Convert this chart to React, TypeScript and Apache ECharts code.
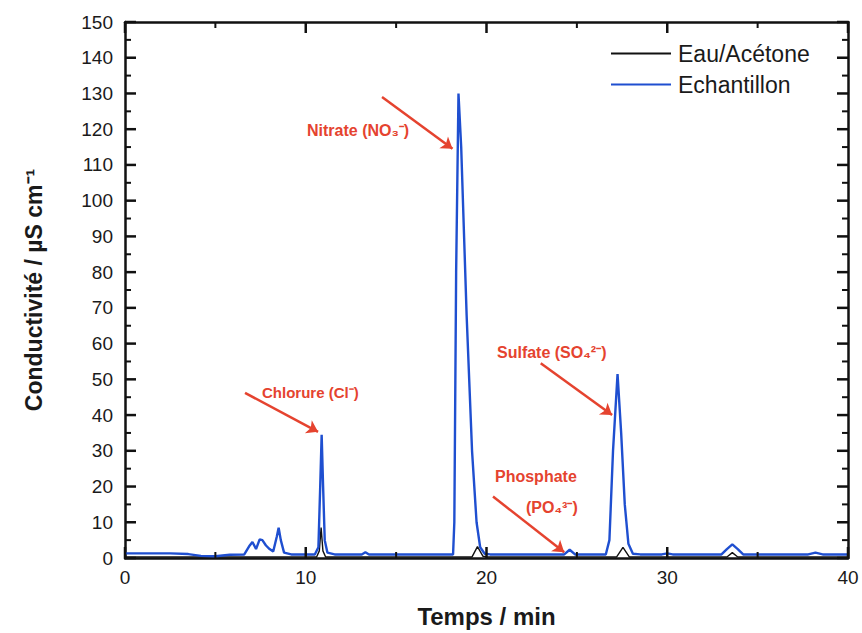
import React, { useEffect, useRef } from "react";
import * as echarts from "echarts";

// Time (min), conductivity (µS cm-1)
const eauAcetone: [number, number][] = [
  [0, 0.3], [10.6, 0.3], [10.75, 2], [10.85, 8.5], [10.95, 2], [11.1, 0.3],
  [19.2, 0.3], [19.5, 3.2], [19.8, 0.5], [20.0, 0.3],
  [27.2, 0.3], [27.55, 3.0], [27.9, 0.3],
  [33.3, 0.3], [33.6, 1.5], [33.9, 0.3], [40, 0.3],
];

const echantillon: [number, number][] = [
  [0, 1.3], [2.5, 1.3], [3.5, 1.1], [4.2, 0.6], [5.0, 0.5], [5.8, 0.9], [6.6, 1.0],
  [6.9, 3.5], [7.05, 4.5], [7.25, 2.5], [7.45, 5.2], [7.6, 5.0], [7.8, 3.5],
  [8.0, 2.5], [8.2, 1.8], [8.4, 6.0], [8.5, 8.5], [8.62, 5.0], [8.8, 1.5],
  [9.2, 1.0], [10.5, 1.0], [10.7, 3.0], [10.8, 20], [10.88, 34.5], [10.96, 20],
  [11.05, 5], [11.2, 1.5], [11.6, 1.0], [13.1, 1.0], [13.3, 1.6], [13.5, 1.0],
  [18.15, 1.0], [18.22, 10], [18.32, 80], [18.45, 130], [18.6, 115], [18.9, 68],
  [19.2, 30], [19.45, 10], [19.65, 3], [19.9, 1.2], [20.2, 1.0],
  [24.3, 1.0], [24.6, 2.3], [24.9, 1.0], [26.6, 1.0], [26.8, 5], [27.0, 30],
  [27.25, 51.5], [27.45, 35], [27.65, 15], [27.85, 4], [28.1, 1.2], [28.5, 1.0],
  [29.7, 1.0], [30.0, 1.3], [30.3, 1.0], [33.0, 1.0], [33.3, 2.5], [33.6, 3.8],
  [33.9, 2.5], [34.2, 1.0], [37.8, 1.0], [38.2, 1.5], [38.6, 1.0], [40, 1.0],
];

const seriesNames = ["Eau/Acétone", "Echantillon"];

// Tick positions (major every 10, minor halfway)
const xTickValues = [0, 5, 10, 15, 20, 25, 30, 35, 40];
const yTickValues = [
  0, 5, 10, 15, 20, 25, 30, 35, 40, 45, 50, 55, 60, 65, 70, 75, 80,
  85, 90, 95, 100, 105, 110, 115, 120, 125, 130, 135, 140, 145, 150,
];

// Arrow annotations in data coordinates: [start, end]
const arrows: [[number, number], [number, number]][] = [
  [[6.64, 46.2], [10.68, 35.3]],
  [[14.22, 129], [18.12, 114.5]],
  [[23.0, 54.5], [26.95, 40.0]],
  [[20.36, 17.2], [24.3, 1.6]],
];

const labels = [
  { text: "Chlorure (Cl⁻)", x: 262, y: 392, size: 15 },
  { text: "Nitrate (NO₃⁻)", x: 307, y: 130, size: 16 },
  { text: "Sulfate (SO₄²⁻)", x: 497, y: 352, size: 16 },
  { text: "Phosphate", x: 495, y: 476, size: 16 },
  { text: "(PO₄³⁻)", x: 526, y: 507, size: 16 },
];

const FONT = "'Liberation Sans', Arial, Helvetica, sans-serif";
const X_MIN = 0, X_MAX = 40, Y_MIN = 0, Y_MAX = 150;

function tickLine(x1: number, y1: number, x2: number, y2: number, w: number) {
  return { type: "line", shape: { x1, y1, x2, y2 }, style: { stroke: "#111", lineWidth: w } };
}

export default function App() {
  const ref = useRef<HTMLDivElement>(null);
  useEffect(() => {
    document.body.style.margin = "0";
    const chart = echarts.init(ref.current!, null, { renderer: "svg" });
    const axisBase = {
      axisLine: { show: true, onZero: false, lineStyle: { color: "#111", width: 2.5 } },
      axisTick: { show: false },
      minorTick: { show: false },
      splitLine: { show: false },
    };
    chart.setOption({
      animation: false,
      backgroundColor: "#fff",
      grid: { left: 125, right: 14, top: 22, bottom: 75 },
      legend: {
        data: seriesNames,
        orient: "vertical",
        left: 611,
        top: 42,
        padding: 0,
        icon: "rect",
        itemWidth: 60,
        itemHeight: 2,
        itemGap: 8,
        textStyle: { fontFamily: FONT, fontSize: 23, color: "#1a1a1a", padding: [0, 0, 0, 2] },
      },
      xAxis: [
        {
          type: "value", min: X_MIN, max: X_MAX, interval: 10, position: "bottom",
          ...axisBase,
          axisLabel: { fontFamily: FONT, fontSize: 19, color: "#1a1a1a", margin: 10 },
          name: "Temps / min",
          nameLocation: "middle",
          nameGap: 46,
          nameTextStyle: { fontFamily: FONT, fontSize: 24, fontWeight: "bold", color: "#1a1a1a" },
        },
        {
          type: "value", min: X_MIN, max: X_MAX, interval: 10, position: "top",
          ...axisBase,
          axisLabel: { show: false },
        },
      ],
      yAxis: [
        {
          type: "value", min: Y_MIN, max: Y_MAX, interval: 10, position: "left",
          ...axisBase,
          axisLabel: { fontFamily: FONT, fontSize: 19, color: "#1a1a1a", margin: 12 },
          name: "Conductivité / µS cm⁻¹",
          nameLocation: "middle",
          nameGap: 80,
          nameTextStyle: { fontFamily: FONT, fontSize: 23, fontWeight: "bold", color: "#1a1a1a" },
        },
        {
          type: "value", min: Y_MIN, max: Y_MAX, interval: 10, position: "right",
          ...axisBase,
          axisLabel: { show: false },
        },
      ],
      series: [
        {
          name: seriesNames[0],
          type: "line",
          data: eauAcetone,
          symbol: "none",
          lineStyle: { color: "#111", width: 1.4 },
          itemStyle: { color: "#111" },
        },
        {
          name: seriesNames[1],
          type: "line",
          data: echantillon,
          symbol: "none",
          lineStyle: { color: "#1f4fd0", width: 2.4 },
          itemStyle: { color: "#1f4fd0" },
          markLine: {
            silent: true,
            symbol: ["none", "arrow"],
            symbolSize: 11,
            label: { show: false },
            lineStyle: { color: "#e5432f", width: 2.5, type: "solid" },
            data: arrows.map(([a, b]) => [{ coord: a }, { coord: b }]),
          },
        },
        {
          name: "xTicks",
          type: "custom",
          silent: true,
          clip: false,
          z: 5,
          data: xTickValues.map((v) => [v, Y_MIN]),
          renderItem: (_p: any, api: any) => {
            const v = api.value(0);
            const major = v % 10 === 0;
            const len = major ? 11 : 6;
            const w = major ? 2.5 : 2;
            const b = api.coord([v, Y_MIN]);
            const t = api.coord([v, Y_MAX]);
            return {
              type: "group",
              children: [
                tickLine(b[0], b[1], b[0], b[1] - len, w),
                tickLine(t[0], t[1], t[0], t[1] + len, w),
              ],
            };
          },
        },
        {
          name: "yTicks",
          type: "custom",
          silent: true,
          clip: false,
          z: 5,
          data: yTickValues.map((v) => [X_MIN, v]),
          renderItem: (_p: any, api: any) => {
            const v = api.value(1);
            const major = v % 10 === 0;
            const len = major ? 11 : 6;
            const w = major ? 2.5 : 2;
            const l = api.coord([X_MIN, v]);
            const r = api.coord([X_MAX, v]);
            return {
              type: "group",
              children: [
                tickLine(l[0], l[1], l[0] + len, l[1], w),
                tickLine(r[0], r[1], r[0] - len, r[1], w),
              ],
            };
          },
        },
      ],
      graphic: labels.map((l) => ({
        type: "text",
        x: l.x,
        y: l.y,
        style: {
          text: l.text,
          fill: "#e5432f",
          font: `bold ${l.size}px ${FONT}`,
          textAlign: "left",
          textVerticalAlign: "middle",
        },
        z: 10,
      })),
    });
    return () => chart.dispose();
  }, []);
  return <div ref={ref} style={{ width: 862, height: 633 }} />;
}
